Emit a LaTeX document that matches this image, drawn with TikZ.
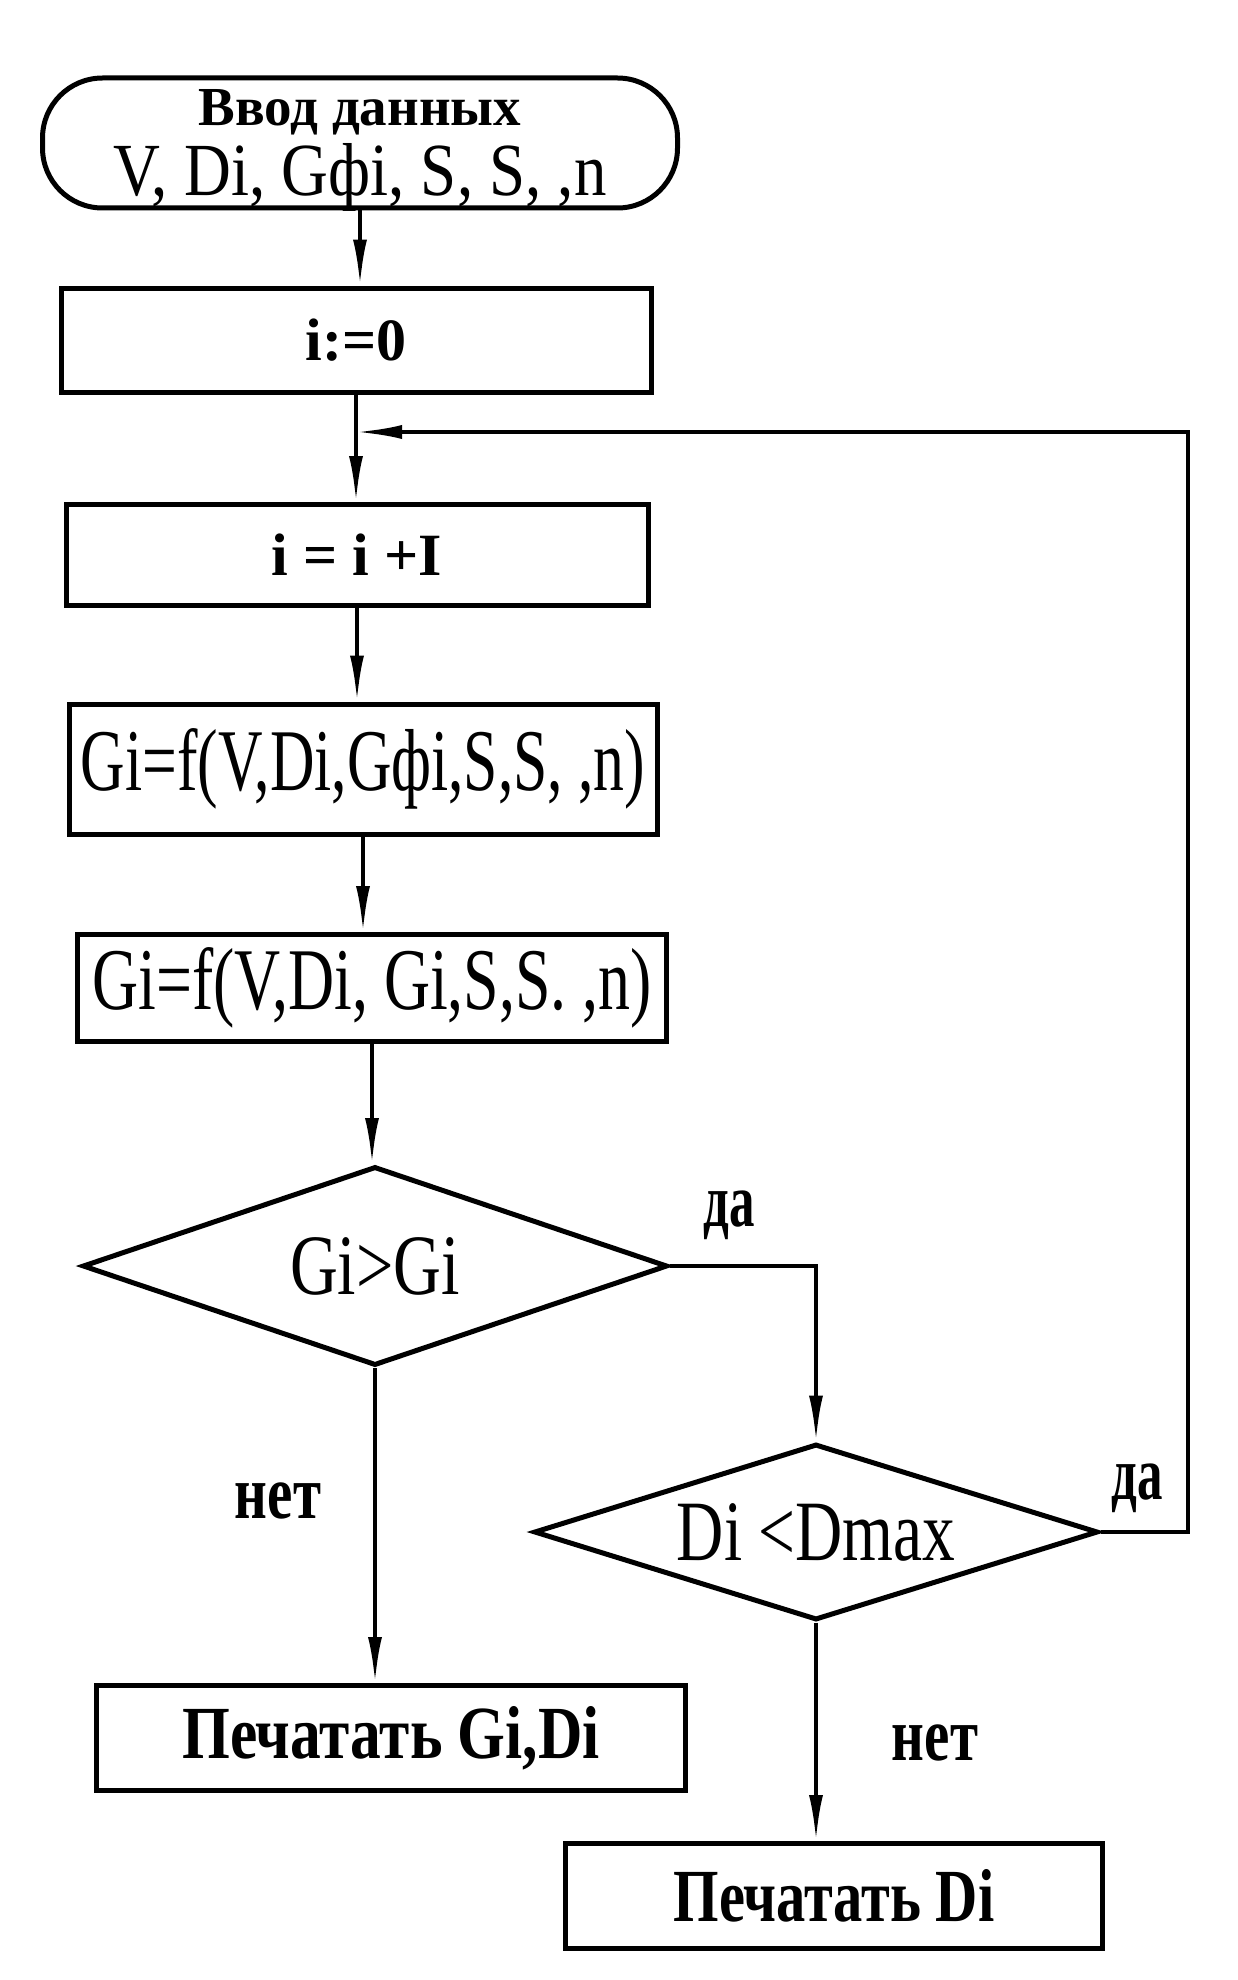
\documentclass[tikz,border=0pt]{standalone}
\usepackage{fontspec}
\setmainfont{Liberation Serif}
\usepackage{graphicx}
\usetikzlibrary{shapes.geometric,arrows.meta}
\newcommand\fz[1]{\fontsize{#1}{#1}\selectfont}
\newcommand\sx[2]{\scalebox{#1}[1]{#2}}
\begin{document}
\begin{tikzpicture}[x=1pt,y=-1pt,
  box/.style={draw,line width=5pt,inner sep=0pt},
  term/.style={box,rounded corners=60pt},
  dia/.style={draw,diamond,line width=5pt,inner sep=0pt},
  conn/.style={line width=4pt},
  arr/.style={conn,-{Latex[length=46pt,width=14pt]}},
  lbl/.style={font=\fz{76}\bfseries,inner sep=0pt}
]
\useasboundingbox (0,0) rectangle (1238,1980);

\node[term,minimum width=635pt,minimum height=130pt] (term) at (360,143) {};
\node[anchor=base,inner sep=0pt,font=\fz{55}\bfseries] (t1) at ([yshift=17pt]term.center) {Ввод данных};
\node[anchor=base,inner sep=0pt,font=\fz{75}] (t2) at ([yshift=-53pt]term.center) {\sx{0.865}{V, Di, Gфi, S, S, ,n}};

\node[box,minimum width=590pt,minimum height=104pt,font=\fz{60}\bfseries] (b1) at (356,340) {i:=0};
\node[box,minimum width=582pt,minimum height=101pt,font=\fz{60}\bfseries] (b2) at (357,555) {i = i +I};
\node[box,minimum width=588pt,minimum height=130pt,font=\fz{88}] (b3) at (363,769) {\sx{0.70}{Gi=f(V,Di,Gфi,S,S, ,n)}};
\node[box,minimum width=589pt,minimum height=107pt,font=\fz{88}] (b4) at (372,988) {\sx{0.725}{Gi=f(V,Di, Gi,S,S. ,n)}};
\node[dia,shape aspect=2.94,minimum width=585pt,minimum height=199pt,font=\fz{86}] (d1) at (375,1266) {\sx{0.77}{Gi>Gi}};
\node[dia,shape aspect=3.2,minimum width=564pt,minimum height=176pt,font=\fz{86}] (d2) at (816,1532) {\sx{0.76}{Di <Dmax}};
\node[box,minimum width=589pt,minimum height=105pt,font=\fz{75}\bfseries] (b5) at (391,1738) {\sx{0.82}{Печатать Gi,Di}};
\node[box,minimum width=537pt,minimum height=105pt,font=\fz{75}\bfseries] (b6) at (834,1896) {\sx{0.78}{Печатать Di}\hspace{30pt}};

\node[lbl] (yes1) at (729,1215) {\sx{0.67}{да}};
\node[lbl] (no1) at (278,1501) {\sx{0.75}{нет}};
\node[lbl] (yes2) at (1137,1488) {\sx{0.67}{да}};
\node[lbl] (no2) at (935,1743) {\sx{0.75}{нет}};

\draw[arr] (term.south) -- (term.south |- b1.north);
\draw[arr] (b1.south) -- (b1.south |- b2.north);
\draw[arr] (b2.south) -- (b2.south |- b3.north);
\draw[arr] (b3.south) -- (b3.south |- b4.north);
\draw[arr] (b4.south) -- (b4.south |- d1.north);
\draw[arr] (d1.south) -- (d1.south |- b5.north);
\draw[arr] (d1.east) -| (d2.north);
\draw[arr] (d2.south) -- (d2.south |- b6.north);
\coordinate (loopR) at (1188,432);
\coordinate (join) at (b1.south |- loopR);
\draw[arr] (d2.east) -| (loopR) -- (join);
\end{tikzpicture}
\end{document}
